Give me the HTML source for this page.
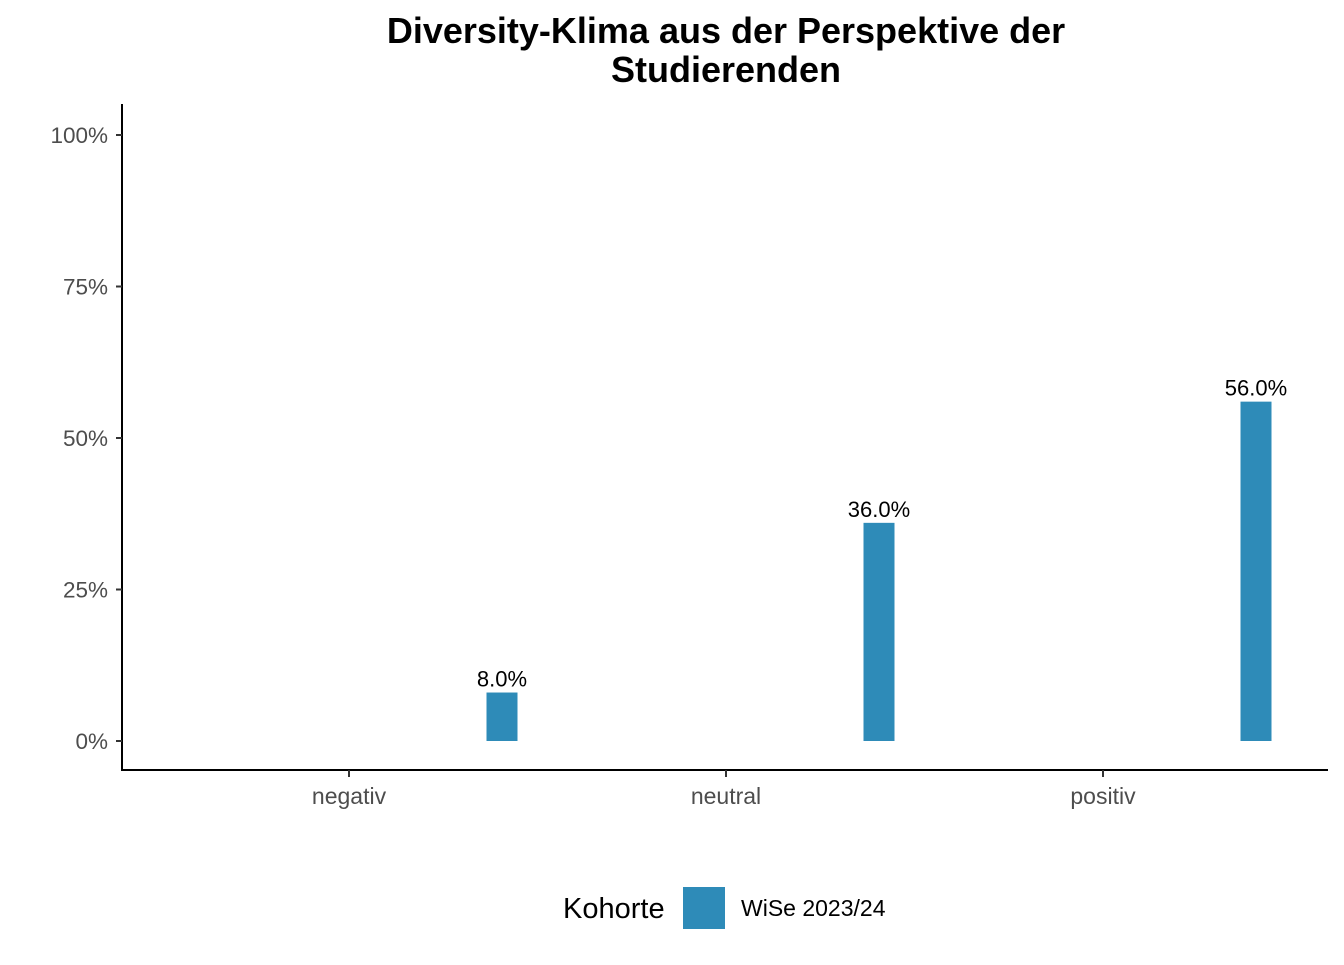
<!DOCTYPE html>
<html><head><meta charset="utf-8"><style>
body{margin:0;background:#fff;font-family:"Liberation Sans",Arial,sans-serif}
</style></head><body>
<svg width="1344" height="960" viewBox="0 0 1344 960" xmlns="http://www.w3.org/2000/svg">
<g font-weight="bold" font-size="36" text-anchor="middle" fill="#000">
<text x="726" y="43">Diversity-Klima aus der Perspektive der</text>
<text x="726" y="82">Studierenden</text>
</g>
<g id="axes"></g>
<g id="bars"></g>
<g>
<text x="563" y="918" font-size="29" fill="#000">Kohorte</text>
<rect x="683" y="887" width="42" height="42" fill="#2E8BB8"/>
<text x="741" y="916" font-size="23" fill="#000">WiSe 2023/24</text>
</g>
</svg>
<script>
const categories=["negativ","neutral","positiv"];
const values=[8.0,36.0,56.0];
const yTicks=[0,25,50,75,100];
const yTickLabels=["0%","25%","50%","75%","100%"];
const NS="http://www.w3.org/2000/svg";
const y=v=>741-v*6.06;
const x=i=>349+i*377;
function mk(t,a,p){const e=document.createElementNS(NS,t);for(const k in a)e.setAttribute(k,a[k]);p.appendChild(e);return e;}
const ax=document.getElementById('axes'),bg=document.getElementById('bars');
let l=mk('line',{x1:122,y1:104,x2:122,y2:771,stroke:'#000','stroke-width':2},ax);


l=mk('line',{x1:121,y1:770,x2:1328,y2:770,stroke:'#000','stroke-width':2},ax);


yTicks.forEach((v,i)=>{
 const t=mk('line',{x1:116,x2:122,y1:y(v),y2:y(v),stroke:'#333','stroke-width':2},ax);
 
 
 const tx=mk('text',{x:108,y:y(v)+8,'text-anchor':'end','font-size':22.5,fill:'#4d4d4d'},ax);
 tx.textContent=yTickLabels[i];
 
 
});
categories.forEach((c,i)=>{
 const t=mk('line',{x1:x(i),x2:x(i),y1:770,y2:777,stroke:'#333','stroke-width':2},ax);
 
 
 const tx=mk('text',{x:x(i),y:804,'text-anchor':'middle','font-size':23,fill:'#4d4d4d'},ax);
 tx.textContent=c;
 
 
 const cx=x(i)+153;
 const b=mk('rect',{x:cx-15.5,y:y(values[i]),width:31,height:y(0)-y(values[i]),fill:'#2E8BB8'},bg);
 
 
 const lb=mk('text',{x:cx,y:y(values[i])-6,'text-anchor':'middle','font-size':22,fill:'#000'},bg);
 lb.textContent=values[i].toFixed(1)+'%';
 
 
});
</script>
</body></html>
